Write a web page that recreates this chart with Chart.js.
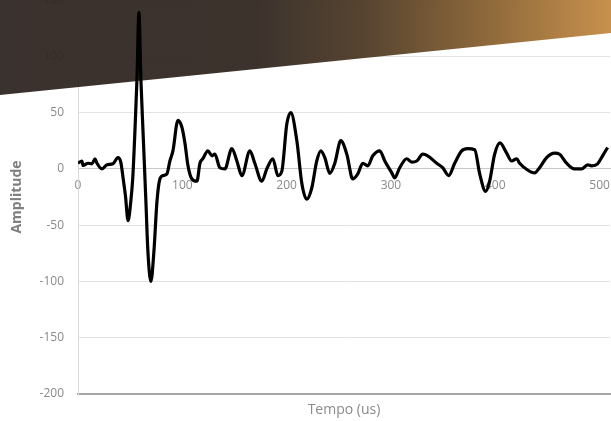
<!DOCTYPE html>
<html>
<head>
<meta charset="utf-8">
<script src="https://cdn.jsdelivr.net/npm/chart.js@4/dist/chart.umd.min.js"></script>
<style>
  html, body { margin: 0; padding: 0; background: #fff; }
  canvas { display: block; }
</style>
</head>
<body>
<canvas id="chart" width="611" height="421"></canvas>
<script>
// tempo (us) / amplitude
const timeUs = [0, 3.8, 4.8, 9.6, 13.4, 16.3, 18.2, 23, 27.8, 33.5, 38.3, 41, 43.5, 45.5, 48, 50.5, 52.5, 54.6, 56.5, 58.4,
  60.3, 62.3, 65.1, 67, 69.9, 72.8, 75.7, 78.5, 81.4, 85.2, 88.1, 91, 95.8, 99.6, 102.5, 105.4, 109.2, 114, 116.9,
  119.7, 124.5, 128.4, 131.2, 136, 140.8, 147.5, 152.3, 157.1, 164.8, 169.5, 176.2, 181, 186.8, 191.6, 195.4, 200.2,
  204, 209.8, 214.6, 219.3, 224.1, 228.9, 232.8, 236.6, 241.4, 246.2, 251.9, 257.7, 263.4, 268.2, 273, 277.8, 282.6,
  289.3, 294.1, 300.8, 303.6, 308.4, 315.1, 319.9, 324.7, 330.5, 335.2, 343.9, 349.6, 355.4, 361.1, 367.8, 373.6,
  380.3, 385.1, 390.8, 394.6, 399.4, 404.5, 410.9, 415.7, 420.5, 423.4, 431, 437.7, 442.5, 449.2, 456.9, 461.7,
  468.4, 476, 482.8, 488.5, 492.3, 498.1, 502.9, 507.7];
const amplitude = [5, 7, 3, 5, 4.5, 9, 5, 0, 3.6, 4.5, 10, 6, -10, -24, -46, -30, -8, 34, 79, 139,
  79, 34, -29, -73, -100, -73, -29, -9, -6, -4.5, 7, 16, 43, 37, 23, 3, -9, -11, 5,
  9, 16, 11.6, 13, 1, 0, 18, 7, -6, 16, 5, -11, 0, 9, -6, -2, 40,
  50, 25, -13, -27, -17, 7, 16, 10, -4, 5, 25, 13, -9, -4.5, 5, 2.7, 11.6,
  16, 7, -3.6, -8, 1, 9, 6, 7, 13, 11.6, 5, 1, -6, 5, 16, 18,
  17, -4.5, -20, -11, 13, 23, 14, 7, 9, 5, -1, -3.6, 1, 10, 14, 13,
  5, 0, 0, 3.6, 2.7, 4.5, 11.6, 19];

const yTicks = [-200, -150, -100, -50, 0, 50, 100, 150];
const xTicks = [0, 100, 200, 300, 400, 500];

const points = timeUs.map((t, i) => ({ x: t, y: amplitude[i] }));

// dark-to-copper banner over the top of the slide
const bannerPlugin = {
  id: 'banner',
  beforeDatasetsDraw(chart) {
    const c = chart.ctx;
    const w = chart.width;
    c.save();
    const g = c.createLinearGradient(0, 0, w, 0);
    g.addColorStop(0, '#2e2521');
    g.addColorStop(0.42, '#302620');
    g.addColorStop(0.6, '#4d3924');
    g.addColorStop(0.8, '#88602f');
    g.addColorStop(1, '#c48a42');
    c.globalAlpha = 0.94;
    c.fillStyle = g;
    c.beginPath();
    c.moveTo(0, 0);
    c.lineTo(w, 0);
    c.lineTo(w, 33);
    c.lineTo(0, 95);
    c.closePath();
    c.fill();
    c.restore();
  }
};

const zeroPad = s => { s.paddingLeft = 0; s.paddingRight = 0; s.paddingTop = 0; s.paddingBottom = 0; };

const ctx = document.getElementById('chart').getContext('2d');
new Chart(ctx, {
  type: 'line',
  data: {
    datasets: [{
      data: points,
      borderColor: '#000',
      borderWidth: 3.2,
      pointRadius: 0,
      fill: false,
      cubicInterpolationMode: 'monotone'
    }]
  },
  options: {
    responsive: false,
    animation: false,
    layout: { padding: { top: 0, right: 1, left: 0, bottom: 0 } },
    plugins: { legend: { display: false }, tooltip: { enabled: false } },
    scales: {
      x: {
        type: 'linear',
        position: { y: 0 },
        min: 0,
        max: 510,
        afterBuildTicks: s => { s.ticks = xTicks.map(v => ({ value: v })); },
        grid: { display: false, drawTicks: false },
        border: { display: true, color: '#c8c8c8', dash: [2, 2], width: 1 },
        ticks: { color: '#8a8a8a', padding: 10, font: { family: 'Open Sans', size: 12 } },
        afterFit: zeroPad
      },
      xb: {
        type: 'linear',
        position: 'bottom',
        min: 0,
        max: 510,
        grid: { display: false, drawTicks: false },
        border: { display: true, color: '#a6a6a6', width: 2 },
        ticks: { display: false },
        title: { display: true, text: 'Tempo (us)', color: '#8a8a8a', padding: { top: 3, bottom: 3 },
          font: { family: 'Open Sans', size: 14 } },
        afterFit: s => { zeroPad(s); s.height = 27; }
      },
      y: {
        min: -200,
        max: 150,
        afterBuildTicks: s => { s.ticks = yTicks.map(v => ({ value: v })); },
        grid: {
          drawTicks: false,
          color: c => (c.tick && (c.tick.value === 0 || c.tick.value === -200)) ? 'rgba(0,0,0,0)' : '#e3e3e3'
        },
        border: { display: true, color: '#dadada', width: 1 },
        ticks: { color: '#8a8a8a', padding: 14, font: { family: 'Open Sans', size: 12 } },
        title: { display: true, text: 'Amplitude', color: '#7f7f7f', padding: { top: 9, bottom: 0 },
          font: { family: 'Open Sans', size: 14, weight: 'bold' } },
        afterFit: s => { zeroPad(s); s.width = 78; }
      }
    }
  },
  plugins: [bannerPlugin]
});
</script>
</body>
</html>
